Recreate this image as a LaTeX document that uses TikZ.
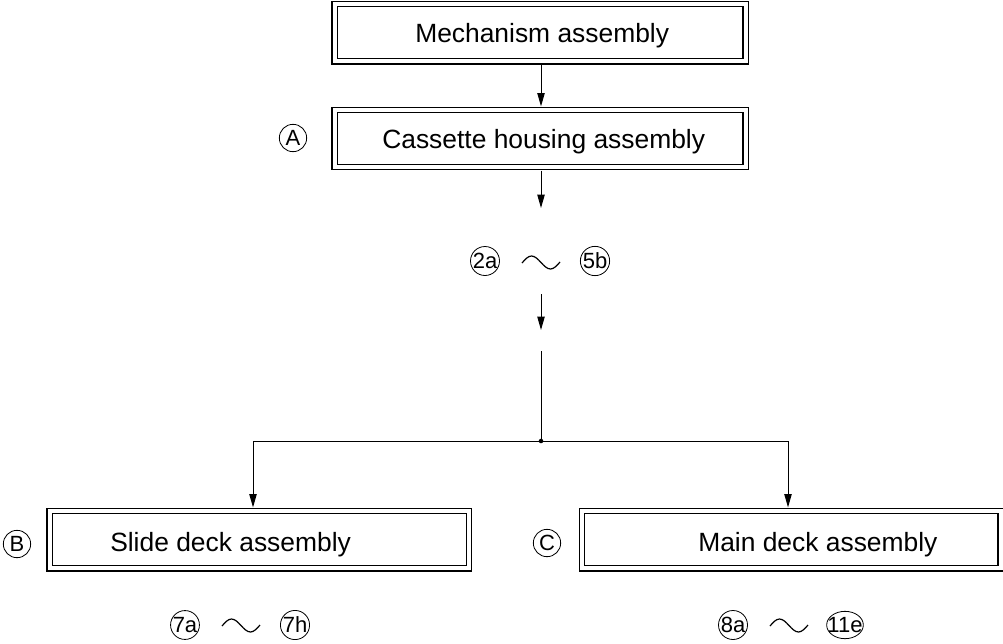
\documentclass[tikz,border=0pt]{standalone}
\usepackage{fontspec}
\setmainfont{Liberation Sans}
\usetikzlibrary{arrows.meta,shapes.geometric}
\begin{document}
\begin{tikzpicture}[x=0.75pt,y=-0.75pt,
  every node/.style={inner sep=0pt},
  dbox/.style={draw, double, double distance=3pt, line width=0.8pt, rectangle},
  lbl/.style={font=\fontsize{19.8}{23}\selectfont, anchor=base west},
  circ/.style={draw, circle, line width=0.6pt, minimum size=20.5pt, font=\fontsize{16.5}{19}\selectfont},
  conn/.style={line width=0.75pt},
  arr/.style={conn, -{Triangle[length=10pt,width=5.5pt]}},
  wave/.style={line width=0.9pt}
]
\useasboundingbox (0,0) rectangle (1003,643);

% boxes
\node[dbox, minimum width=308.25pt, minimum height=43.1pt] (mech) at (540,32.75) {};
\node[dbox, minimum width=308.25pt, minimum height=42.75pt] (cass) at (540,138.5) {};
\node[dbox, minimum width=314.6pt, minimum height=43.1pt] (slide) at (259.25,539.75) {};
\node[dbox, minimum width=313.9pt, minimum height=43.1pt] (main) at (791.25,539.75) {};

% box texts
\node[lbl] (tmech) at (415,42) {Mechanism assembly};
\node[lbl] (tcass) at (382,148) {Cassette housing assembly};
\node[lbl] (tslide) at (110,551) {Slide deck assembly};
\node[lbl] (tmain) at (698,551) {Main deck assembly};

% circled labels
\node[circ] (nA) at (293,138) {A};
\node[circ] (nB) at (17,544) {B};
\node[circ] (nC) at (547,543) {C};
\node[circ] (n2a) at (485,261) {2a};
\node[circ] (n5b) at (595,261) {5b};
\node[circ] (n7a) at (185,625) {7a};
\node[circ] (n7h) at (295,625) {7h};
\node[circ] (n8a) at (733,625) {8a};
\node[circ, ellipse, minimum width=27.5pt, minimum height=20.5pt, inner xsep=-3.5pt] (n11e) at (845,625) {11e};

% tildes
\draw[wave] (522,263) sin (531.5,256) cos (541,262.5) sin (550.5,269) cos (560,262);
\draw[wave] (222,626) sin (231.5,619) cos (241,625.5) sin (250.5,632) cos (260,625);
\draw[wave] (770,626) sin (779.5,619) cos (789,625.5) sin (798.5,632) cos (808,625);

% connector coordinates
\coordinate (c1) at (541,208);
\coordinate (c2) at (541,294);
\coordinate (c3) at (541,330);
\coordinate (c4) at (541,351);
\coordinate (j) at (541,441);
\coordinate (jl) at (253,441);
\coordinate (jr) at (788,441);

% connectors
\draw[arr, shorten <=2.3pt, shorten >=2.3pt] (mech.south -| j) -- (cass.north -| j);
\draw[arr, shorten <=2.3pt] (cass.south -| j) -- (c1);
\draw[arr] (c2) -- (c3);
\draw[conn] (c4) -- (j);
\draw[arr, shorten >=2.3pt] (j) -- (jl) -- (slide.north -| jl);
\draw[arr, shorten >=2.3pt] (j) -- (jr) -- (main.north -| jr);
\fill (j) circle (1.7pt);
\end{tikzpicture}
\end{document}
